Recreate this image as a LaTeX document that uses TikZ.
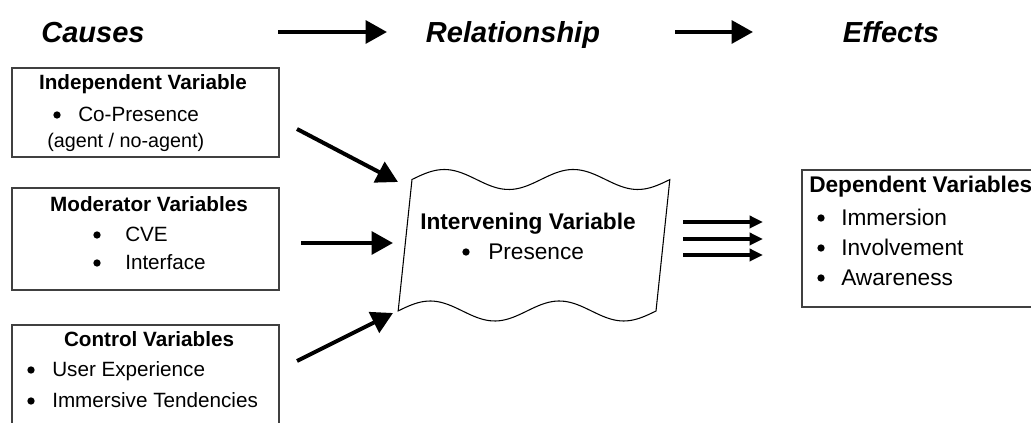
\documentclass[tikz,border=0pt]{standalone}
\usepackage{fontspec}
\setmainfont{Liberation Sans}
\usetikzlibrary{arrows.meta}

\tikzset{
  varbox/.style={draw=black!75, line width=0.8pt, inner sep=0pt},
  heading/.style={font=\fontsize{21.75}{26}\selectfont\bfseries\itshape, anchor=base},
  boxtitle/.style={font=\fontsize{15.5}{18}\selectfont\bfseries, anchor=base, inner sep=0pt},
  item/.style={font=\fontsize{15.5}{18}\selectfont, anchor=base west, inner sep=0pt},
  bigitem/.style={item, font=\fontsize{17}{20}\selectfont},
  dot/.style={circle, fill, inner sep=0pt, minimum size=5.5pt},
  bigarrow/.style={line width=3pt, -{Triangle[length=16pt,width=17pt]}},
  smallarrow/.style={line width=3.5pt, -{Triangle[length=10pt,width=9pt]}},
}

\begin{document}
\begin{tikzpicture}[x=0.75pt, y=-0.75pt]
  \clip (0,0) rectangle (1031,423);

  % headings
  \node[heading] (causes) at (93,43) {Causes};
  \node[heading] (relation) at (513,43) {Relationship};
  \node[heading] (effects) at (891,43) {Effects};
  \coordinate (h1s) at (278,32); \coordinate (h1e) at (387,32);
  \coordinate (h2s) at (675,32); \coordinate (h2e) at (753,32);
  \draw[bigarrow] (h1s) -- (h1e);
  \draw[bigarrow] (h2s) -- (h2e);

  % left boxes
  \node[varbox, minimum width=200.25pt, minimum height=66.75pt] (indep) at (145.5,112.5) {};
  \node[boxtitle] (indeptitle) at (143,90) {Independent Variable};
  \node[dot] (indepdot) at (57,115) {};
  \node[item] (copres) at (78,122) {Co-Presence};
  \node[item, font=\fontsize{14.8}{17}\selectfont] (agent) at (47,148) {(agent / no-agent)};

  \node[varbox, minimum width=200.25pt, minimum height=76.5pt] (moder) at (145.5,239) {};
  \node[boxtitle] (modertitle) at (149,212) {Moderator Variables};
  \node[dot] (moderdota) at (97,235) {};
  \node[item] (cve) at (125,242) {CVE};
  \node[dot] (moderdotb) at (97,263) {};
  \node[item] (interface) at (125,270) {Interface};

  \node[varbox, minimum width=200.25pt, minimum height=90pt] (control) at (145.5,385) {};
  \node[boxtitle] (controltitle) at (149,347) {Control Variables};
  \node[dot] (controldota) at (31,370) {};
  \node[item] (userexp) at (52,377) {User Experience};
  \node[dot] (controldotb) at (31,401) {};
  \node[item] (immtend) at (52,408) {Immersive Tendencies};

  % wavy intervening box
  \draw[line width=0.8pt] plot[domain=0:1, samples=80] ({412+258*\x},{179.5-10*sin(720*\x)})
    -- plot[domain=1:0, samples=80] ({398+258*\x},{311-10*sin(720*\x)}) -- cycle;
  \node[boxtitle, font=\fontsize{17}{20}\selectfont\bfseries] (interv) at (528,230) {Intervening Variable};
  \node[dot] (intervdot) at (466,252) {};
  \node[bigitem] (presence) at (488,260) {Presence};

  % right box
  \node[varbox, minimum width=182.25pt, minimum height=102.75pt] (dep) at (923.5,238.5) {};
  \node[bigitem, font=\fontsize{17}{20}\selectfont\bfseries] (deptitle) at (809,193) {Dependent Variables};
  \node[dot] (depdota) at (821,218) {};
  \node[bigitem] (immersion) at (841,226) {Immersion};
  \node[dot] (depdotb) at (821,248) {};
  \node[bigitem] (involve) at (841,256) {Involvement};
  \node[dot] (depdotc) at (821,278) {};
  \node[bigitem] (aware) at (841,286) {Awareness};

  % arrows into the intervening variable
  \coordinate (s1) at (297,129); \coordinate (t1) at (398,182);
  \coordinate (s2) at (301,243); \coordinate (t2) at (393,243);
  \coordinate (s3) at (297,361); \coordinate (t3) at (393,313);
  \draw[bigarrow] (s1) -- (t1);
  \draw[bigarrow] (s2) -- (t2);
  \draw[bigarrow] (s3) -- (t3);

  % arrows to the effects
  \foreach \i/\y in {a/222, b/239, c/255} {
    \coordinate (o\i) at (683,\y); \coordinate (d\i) at (763,\y);
    \draw[smallarrow] (o\i) -- (d\i);
  }
\end{tikzpicture}
\end{document}
